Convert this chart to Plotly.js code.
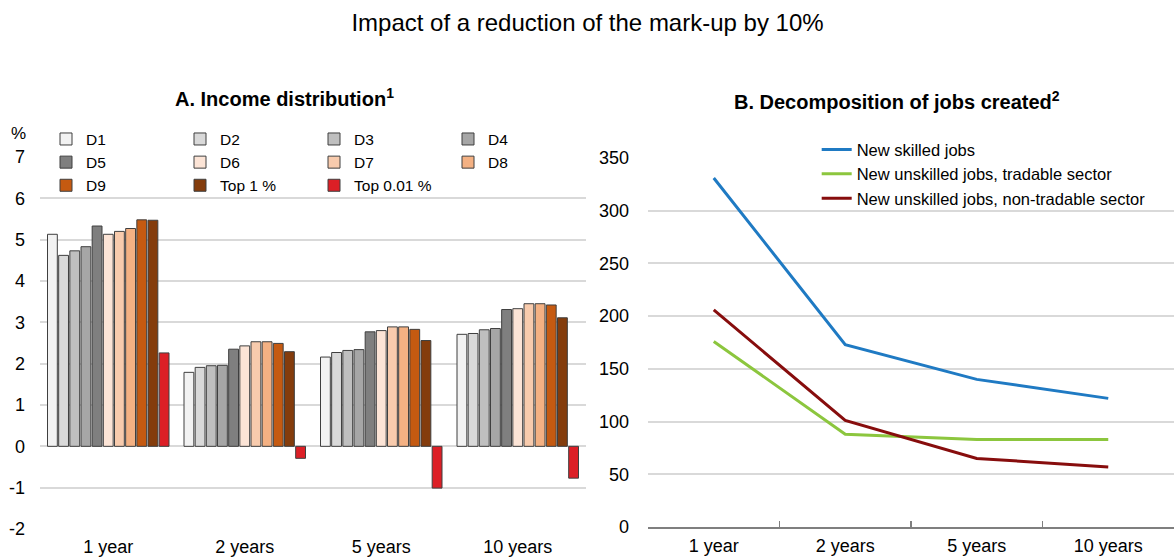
<!DOCTYPE html>
<html>
<head>
<meta charset="utf-8">
<script src="https://cdn.plot.ly/plotly-3.0.1.min.js"></script>
<style>
  html, body { margin: 0; padding: 0; background: #ffffff; }
  #wrap { position: relative; width: 1175px; height: 558px; }
  #panelA, #panelB { position: absolute; left: 0; top: 0; width: 1175px; height: 558px; }
  #panelB { pointer-events: none; }
</style>
</head>
<body>
<div id="wrap">
  <div id="panelA"></div>
  <div id="panelB"></div>
</div>
<script>
// Horizons shared by both panels
const horizons = ['1 year', '2 years', '5 years', '10 years'];

// Panel A: change in income by group (%)
const seriesNames = ['D1', 'D2', 'D3', 'D4', 'D5', 'D6', 'D7', 'D8', 'D9', 'Top 1 %', 'Top 0.01 %'];
const incomeD1 = [5.13, 1.79, 2.16, 2.71];
const incomeD2 = [4.62, 1.91, 2.27, 2.73];
const incomeD3 = [4.73, 1.95, 2.32, 2.82];
const incomeD4 = [4.83, 1.96, 2.34, 2.85];
const incomeD5 = [5.33, 2.35, 2.77, 3.31];
const incomeD6 = [5.13, 2.43, 2.80, 3.33];
const incomeD7 = [5.20, 2.53, 2.89, 3.45];
const incomeD8 = [5.27, 2.53, 2.89, 3.45];
const incomeD9 = [5.48, 2.49, 2.83, 3.42];
const incomeTop1 = [5.47, 2.29, 2.56, 3.11];
const incomeTop001 = [2.26, -0.29, -1.01, -0.77];
const seriesColors = ['#f2f2f2', '#d9d9d9', '#bfbfbf', '#a6a6a6', '#7f7f7f',
                      '#fce4d6', '#f8cbad', '#f4b183', '#c55a11', '#843c0c', '#dc1f26'];

// Panel B: jobs created
const jobNames = ['New skilled jobs', 'New unskilled jobs, tradable sector', 'New unskilled jobs, non-tradable sector'];
const skilledJobs = [331, 173, 140, 122];
const unskilledTradable = [176, 88, 83, 83];
const unskilledNonTradable = [206, 101, 65, 57];
const jobColors = ['#1f7ac3', '#8cc63e', '#870d0d'];

// Tick values
const incomeTicks = [-2, -1, 0, 1, 2, 3, 4, 5, 6, 7];
const jobTicks = [0, 50, 100, 150, 200, 250, 300, 350];

const FONT = 'Liberation Sans, Arial, sans-serif';
const GRID = '#d9d9d9';
const AXIS = '#7f7f7f';

const incomeSeries = [incomeD1, incomeD2, incomeD3, incomeD4, incomeD5, incomeD6,
                      incomeD7, incomeD8, incomeD9, incomeTop1, incomeTop001];

const barTraces = incomeSeries.map((vals, i) => ({
  type: 'bar',
  name: seriesNames[i],
  x: horizons,
  y: vals,
  marker: { color: seriesColors[i], line: { color: '#3f3f3f', width: 1 } },
  hoverinfo: 'skip'
}));

const layoutA = {
  width: 1175,
  height: 558,
  margin: { l: 40, r: 589, t: 157, b: 29 },
  paper_bgcolor: '#ffffff',
  plot_bgcolor: '#ffffff',
  font: { family: FONT, color: '#000000', size: 18 },
  title: {
    text: 'Impact of a reduction of the mark-up by 10%',
    font: { family: FONT, size: 24, color: '#000000' },
    x: 0.5, xref: 'container', xanchor: 'center',
    y: 1 - 23 / 558, yref: 'container', yanchor: 'middle'
  },
  barmode: 'group',
  bargap: 0.1,
  bargroupgap: 0.12,
  showlegend: true,
  legend: {
    orientation: 'h',
    x: 0.011, xanchor: 'left',
    y: 1.093, yanchor: 'top',
    entrywidth: 89,
    font: { family: FONT, size: 15.5, color: '#000000' },
    bgcolor: 'rgba(0,0,0,0)',
    traceorder: 'normal'
  },
  xaxis: {
    type: 'category',
    categoryarray: horizons,
    range: [-0.5, 3.5],
    showline: false,
    ticks: '',
    showgrid: false,
    zeroline: false,
    tickfont: { family: FONT, size: 18, color: '#000000' },
    ticklabelstandoff: 5
  },
  xaxis2: {
    overlaying: 'x',
    anchor: 'free',
    position: 2 / 9,
    range: [-0.5, 3.5],
    tickvals: [-0.5, 0.5, 1.5, 2.5, 3.5],
    ticks: 'inside',
    ticklen: 7,
    tickwidth: 1.5,
    tickcolor: AXIS,
    showline: true,
    linecolor: AXIS,
    linewidth: 2,
    showticklabels: false,
    showgrid: false,
    zeroline: false
  },
  yaxis: {
    range: [-2, 7],
    tickvals: incomeTicks,
    ticktext: incomeTicks.map(String),
    showgrid: true,
    gridcolor: GRID,
    gridwidth: 2,
    zeroline: false,
    showline: false,
    ticks: '',
    tickfont: { family: FONT, size: 18, color: '#000000' },
    ticklabelstandoff: 14
  },
  annotations: [
    {
      text: '<b>A. Income distribution<sup>1</sup></b>',
      xref: 'paper', yref: 'paper', x: 0.447, y: 1.159,
      xanchor: 'center', yanchor: 'middle', showarrow: false,
      font: { family: FONT, size: 20, color: '#000000' }
    },
    {
      text: '%',
      xref: 'paper', yref: 'paper', x: -0.04, y: 1.064,
      xanchor: 'center', yanchor: 'middle', showarrow: false,
      font: { family: FONT, size: 17, color: '#000000' }
    }
  ]
};

const jobSeries = [skilledJobs, unskilledTradable, unskilledNonTradable];
const lineTraces = jobSeries.map((vals, i) => ({
  type: 'scatter',
  mode: 'lines',
  name: jobNames[i],
  x: horizons,
  y: vals,
  line: { color: jobColors[i], width: 3 },
  hoverinfo: 'skip'
}));

const layoutB = {
  width: 1175,
  height: 558,
  margin: { l: 648, r: 1, t: 158, b: 31 },
  paper_bgcolor: 'rgba(0,0,0,0)',
  plot_bgcolor: 'rgba(0,0,0,0)',
  font: { family: FONT, color: '#000000', size: 18 },
  showlegend: true,
  legend: {
    orientation: 'v',
    x: 0.3207, xanchor: 'left',
    y: 1.07, yanchor: 'top',
    font: { family: FONT, size: 16.5, color: '#000000' },
    bgcolor: 'rgba(0,0,0,0)',
    traceorder: 'normal'
  },
  xaxis: {
    type: 'category',
    categoryarray: horizons,
    range: [-0.5, 3.5],
    showline: true,
    linecolor: AXIS,
    linewidth: 2,
    ticks: 'inside',
    tickson: 'boundaries',
    ticklen: 6,
    tickwidth: 1.5,
    tickcolor: AXIS,
    showgrid: false,
    zeroline: false,
    tickfont: { family: FONT, size: 18, color: '#000000' },
    ticklabelstandoff: 1
  },
  yaxis: {
    range: [0, 350],
    tickvals: jobTicks,
    showgrid: true,
    gridcolor: GRID,
    gridwidth: 2,
    zeroline: false,
    showline: false,
    ticks: '',
    tickfont: { family: FONT, size: 18, color: '#000000' },
    ticklabelstandoff: 18
  },
  annotations: [
    {
      text: '<b>B. Decomposition of jobs created<sup>2</sup></b>',
      xref: 'paper', yref: 'paper', x: 0.474, y: 1.157,
      xanchor: 'center', yanchor: 'middle', showarrow: false,
      font: { family: FONT, size: 20, color: '#000000' }
    }
  ]
};

const config = { staticPlot: true, displayModeBar: false };
Plotly.newPlot('panelA', barTraces, layoutA, config);
Plotly.newPlot('panelB', lineTraces, layoutB, config);
</script>
</body>
</html>
